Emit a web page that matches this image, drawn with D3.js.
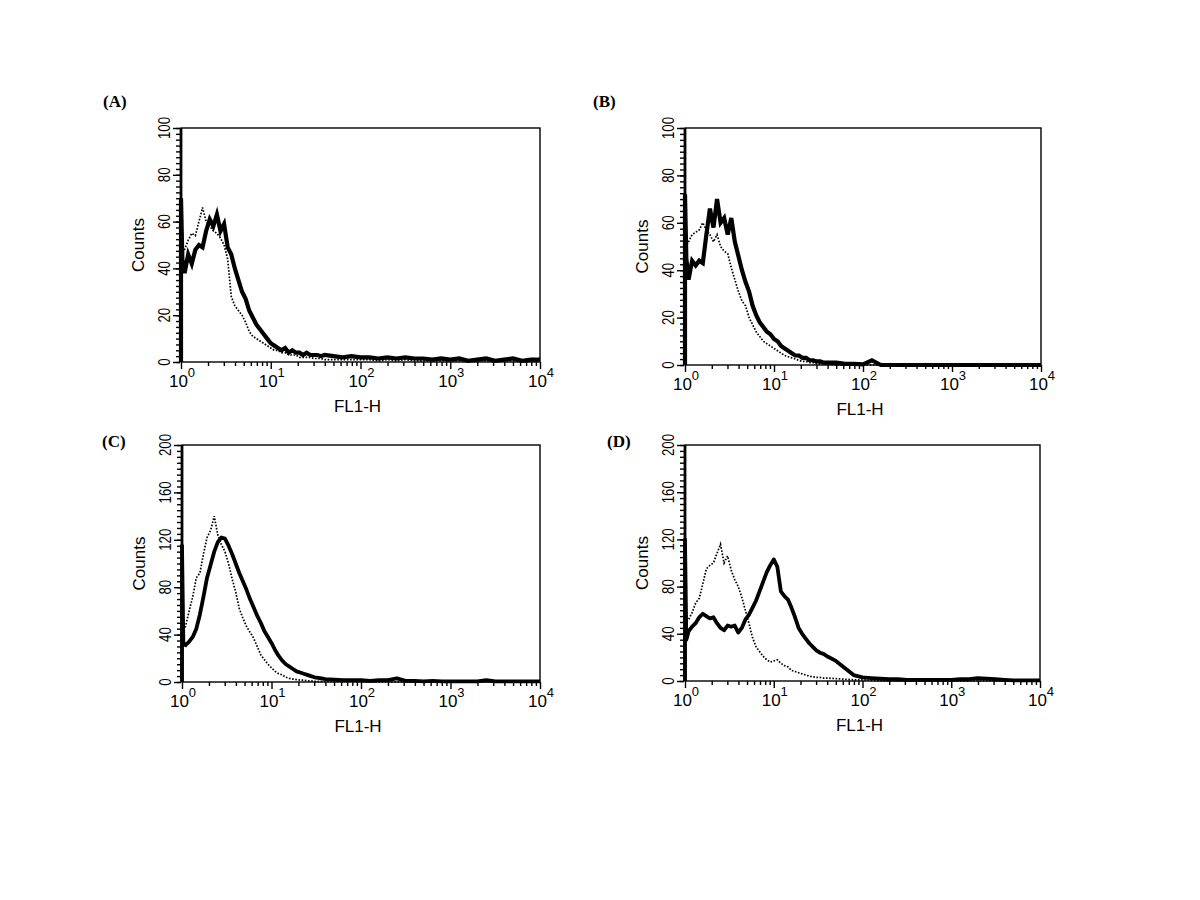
<!DOCTYPE html>
<html>
<head>
<meta charset="utf-8">
<script src="https://cdn.jsdelivr.net/npm/d3@7"></script>
<style>
  html, body { margin: 0; padding: 0; background: #fff; }
  svg { display: block; }
</style>
</head>
<body>
<svg id="chart" width="1200" height="900"></svg>
<script>
// ---------- DATA ----------
// channel positions on the FL1-H axis, in decades (10^pos)
const decadePos = [0, 0.015, 0.04, 0.08, 0.12, 0.16, 0.2, 0.24, 0.28, 0.32, 0.36, 0.4, 0.44, 0.48, 0.52, 0.56, 0.6, 0.64, 0.68, 0.72, 0.76, 0.8, 0.84, 0.88, 0.92, 0.96, 1.0, 1.04, 1.08, 1.12, 1.16, 1.2, 1.24, 1.28, 1.32, 1.36, 1.4, 1.44, 1.48, 1.52, 1.56, 1.6, 1.7, 1.8, 1.9, 2.0, 2.1, 2.2, 2.3, 2.4, 2.5, 2.6, 2.7, 2.8, 2.9, 3.0, 3.1, 3.2, 3.3, 3.4, 3.5, 3.6, 3.7, 3.8, 3.9, 4.0];

// Panel A
const solidA  = [70, 44, 38, 46, 42, 48, 50, 49, 56, 61, 58, 63, 56, 59, 49, 46, 40, 35, 30, 27, 22, 19, 16, 14, 12, 10, 8, 7, 6, 5, 6, 4, 5, 4, 4, 3, 4, 3, 3, 3, 2.5, 3, 2.5, 2, 2.5, 2, 2, 1.5, 2, 1.5, 2, 1.5, 1.5, 1, 1.5, 1, 1.5, 0.5, 1, 1.5, 0.5, 1, 1.5, 0.5, 1, 1];
const dottedA = [50, 46, 48, 52, 55, 54, 60, 66, 60, 58, 56, 55, 53, 50, 44, 28, 24, 22, 20, 17, 13, 11, 10, 9, 8, 7, 6, 5, 5, 4, 4, 3, 3, 3, 2, 2, 2, 2, 1.5, 1.5, 1.5, 1, 1, 1, 1, 1, 1, 0.5, 1, 0.5, 1, 0.5, 0.5, 0.5, 0.5, 0.5, 0.5, 0.5, 0.5, 0.5, 0.5, 0.5, 0.5, 0.5, 0.5, 0.5];

// Panel B
const solidB  = [72, 45, 36, 44, 42, 44, 43, 55, 66, 58, 70, 60, 62, 55, 62, 52, 46, 40, 35, 31, 25, 21, 18, 16, 14, 13, 11, 10, 8, 7, 6, 5, 4, 4, 3, 3, 2, 2, 1.5, 1.5, 1, 1, 1, 0.5, 0.5, 0.3, 2, 0, 0, 0, 0, 0, 0, 0, 0, 0, 0, 0, 0, 0, 0, 0, 0, 0, 0, 0];
const dottedB = [55, 50, 52, 55, 56, 57, 60, 57, 55, 52, 55, 50, 48, 47, 41, 36, 31, 27, 25, 20, 17, 14, 12, 10, 9, 8, 7, 6, 5, 4, 3.5, 3, 2.5, 2, 1.5, 1.5, 1, 1, 0.5, 0.5, 0.5, 0.5, 0, 0, 0, 0, 0, 0, 0, 0, 0, 0, 0, 0, 0, 0, 0, 0, 0, 0, 0, 0, 0, 0, 0, 0];

// Panel C
const solidC  = [115, 33, 31, 34, 38, 45, 57, 72, 88, 99, 110, 118, 122, 121, 115, 108, 100, 92, 85, 78, 70, 63, 56, 50, 43, 38, 33, 27, 22, 18, 15, 13, 11, 9, 8, 7, 6, 5, 4, 3.5, 3, 2.5, 2, 1.5, 1.5, 1.5, 1, 1.5, 1.5, 3, 1, 1, 0.5, 1, 0.5, 0.5, 0.5, 0.5, 0.5, 1.5, 0.5, 0.5, 0.5, 0.5, 0.5, 0.5];
const dottedC = [50, 45, 47, 60, 72, 88, 92, 108, 122, 128, 140, 124, 116, 110, 100, 87, 76, 62, 54, 47, 42, 37, 30, 23, 19, 15, 12, 9, 7, 6, 4, 3, 2.5, 2, 1.5, 1.5, 1, 1, 0.5, 0.5, 0.5, 0.5, 0.5, 0.5, 0.5, 0.5, 0, 0, 0, 0, 0, 0, 0, 0, 0, 0, 0, 0, 0, 0, 0, 0, 0, 0, 0, 0];

// Panel D
const solidD  = [120, 35, 42, 46, 49, 54, 57, 55, 53, 54, 49, 45, 43, 47, 46, 47, 41, 45, 52, 56, 62, 68, 76, 84, 92, 98, 103, 97, 76, 72, 69, 62, 54, 45, 40, 36, 32, 29, 26, 24, 23, 21, 17, 11, 5, 3, 2.5, 2, 1.5, 1.5, 1, 1, 1, 1, 1, 1, 1.5, 1.5, 2.5, 2, 1.5, 1, 0.5, 0.5, 0.5, 0.5];
const dottedD = [50, 50, 52, 58, 66, 70, 82, 95, 98, 100, 108, 116, 100, 106, 94, 86, 80, 71, 60, 49, 37, 29, 25, 21, 18, 16, 17, 18, 15, 13, 12, 9, 8, 7, 6, 5, 4, 3.5, 3, 3, 2.5, 2.5, 2, 1.5, 1, 1, 0.5, 0, 0, 0, 0, 0, 0, 0, 0, 0, 0, 0, 0, 0, 0, 0, 0, 0, 0, 0];

const panelLabels = ["(A)", "(B)", "(C)", "(D)"];
const yTicksSmall = [0, 20, 40, 60, 80, 100];
const yTicksLarge = [0, 40, 80, 120, 160, 200];
const xTickExponents = [0, 1, 2, 3, 4];
const xAxisTitle = "FL1-H";
const yAxisTitle = "Counts";

// ---------- LAYOUT ----------
const panels = [
  { label: panelLabels[0], solid: solidA, dotted: dottedA, yTicks: yTicksSmall, x0: 181, x1: 540, y0: 128, y1: 362, lx: 103, ly: 107, noisy: true },
  { label: panelLabels[1], solid: solidB, dotted: dottedB, yTicks: yTicksSmall, x0: 685, x1: 1041, y0: 128, y1: 365, lx: 593, ly: 107, noisy: true },
  { label: panelLabels[2], solid: solidC, dotted: dottedC, yTicks: yTicksLarge, x0: 182, x1: 540, y0: 445, y1: 682, lx: 102, ly: 447, noisy: false },
  { label: panelLabels[3], solid: solidD, dotted: dottedD, yTicks: yTicksLarge, x0: 685, x1: 1040, y0: 445, y1: 681, lx: 607, ly: 447, noisy: false }
];

const svg = d3.select("#chart");
svg.append("rect").attr("width", 1200).attr("height", 900).attr("fill", "#fff");

const sansFont = "'Liberation Sans', Arial, Helvetica, sans-serif";

panels.forEach(p => {
  const g = svg.append("g");
  const yMax = p.yTicks[p.yTicks.length - 1];
  const x = d3.scaleLog().domain([1, 10000]).range([p.x0, p.x1]);
  const y = d3.scaleLinear().domain([0, yMax]).range([p.y1, p.y0]);

  // frame
  g.append("rect")
    .attr("x", p.x0).attr("y", p.y0)
    .attr("width", p.x1 - p.x0).attr("height", p.y1 - p.y0)
    .attr("fill", "none").attr("stroke", "#000").attr("stroke-width", 1.4);

  // histograms
  const toPts = arr => [{ p: 0, v: 0 }].concat(arr.map((v, i) => ({ p: decadePos[i], v: v })));
  const line = d3.line()
    .x(d => x(Math.pow(10, d.p)))
    .y(d => y(d.v))
    .curve(d3.curveLinear);

  g.append("path").datum(toPts(p.dotted))
    .attr("d", line).attr("fill", "none")
    .attr("stroke", "#000").attr("stroke-width", 1.7)
    .attr("stroke-dasharray", "1.6,1.6");

  g.append("path").datum(toPts(p.solid))
    .attr("d", line).attr("fill", "none")
    .attr("stroke", "#000").attr("stroke-width", p.noisy ? 4.2 : 3.8)
    .attr("stroke-linejoin", p.noisy ? "miter" : "round");

  // thick left axis line
  g.append("line")
    .attr("x1", p.x0).attr("x2", p.x0)
    .attr("y1", p.y0).attr("y2", p.y1)
    .attr("stroke", "#000").attr("stroke-width", 2.8);

  // y axis ticks (major + minor)
  const step = p.yTicks[1] - p.yTicks[0];
  const minorVals = d3.range(0, yMax + 1e-9, step / 8);
  const yMinor = d3.axisLeft(y).tickValues(minorVals).tickSize(4).tickFormat("");
  const yMajor = d3.axisLeft(y).tickValues(p.yTicks).tickSize(7).tickFormat("");
  [yMinor, yMajor].forEach(ax => {
    const a = g.append("g").attr("transform", `translate(${p.x0 - 1},0)`).call(ax);
    a.select(".domain").remove();
    a.selectAll("line").attr("stroke", "#000").attr("stroke-width", 1.4);
  });

  // y tick labels (rotated)
  p.yTicks.forEach(t => {
    g.append("text")
      .attr("transform", `translate(${p.x0 - 11},${y(t)}) rotate(-90) scale(0.78,1)`)
      .attr("text-anchor", "middle")
      .attr("font-family", sansFont).attr("font-size", 17)
      .attr("fill", "#000")
      .text(t);
  });

  // x axis ticks (log major + minor)
  const xMinorVals = [];
  xTickExponents.slice(0, -1).forEach(e => {
    for (let m = 2; m <= 9; m++) xMinorVals.push(m * Math.pow(10, e));
  });
  const xMajorVals = xTickExponents.map(e => Math.pow(10, e));
  const xMinor = d3.axisBottom(x).tickValues(xMinorVals).tickSize(4).tickFormat("");
  const xMajor = d3.axisBottom(x).tickValues(xMajorVals).tickSize(7).tickFormat("");
  [xMinor, xMajor].forEach(ax => {
    const a = g.append("g").attr("transform", `translate(0,${p.y1})`).call(ax);
    a.select(".domain").remove();
    a.selectAll("line").attr("stroke", "#000").attr("stroke-width", 1.4);
  });

  // x tick labels 10^n
  xTickExponents.forEach(e => {
    const t = g.append("text")
      .attr("x", x(Math.pow(10, e)) + 1)
      .attr("y", p.y1 + 25)
      .attr("text-anchor", "middle")
      .attr("font-family", sansFont).attr("font-size", 17);
    t.append("tspan").text("10");
    t.append("tspan").attr("dy", -10).attr("font-size", 13).text(e);
  });

  // axis titles
  g.append("text")
    .attr("x", (p.x0 + p.x1) / 2 - 3)
    .attr("y", p.y1 + 50)
    .attr("text-anchor", "middle")
    .attr("font-family", sansFont).attr("font-size", 17)
    .text(xAxisTitle);

  g.append("text")
    .attr("transform", `translate(${p.x0 - 37},${(p.y0 + p.y1) / 2}) rotate(-90)`)
    .attr("text-anchor", "middle")
    .attr("font-family", sansFont).attr("font-size", 17)
    .text(yAxisTitle);

  // panel label
  g.append("text")
    .attr("x", p.lx).attr("y", p.ly)
    .attr("font-family", "'Liberation Serif', 'Times New Roman', serif")
    .attr("font-weight", "bold").attr("font-size", 17)
    .text(p.label);
});
</script>
</body>
</html>
